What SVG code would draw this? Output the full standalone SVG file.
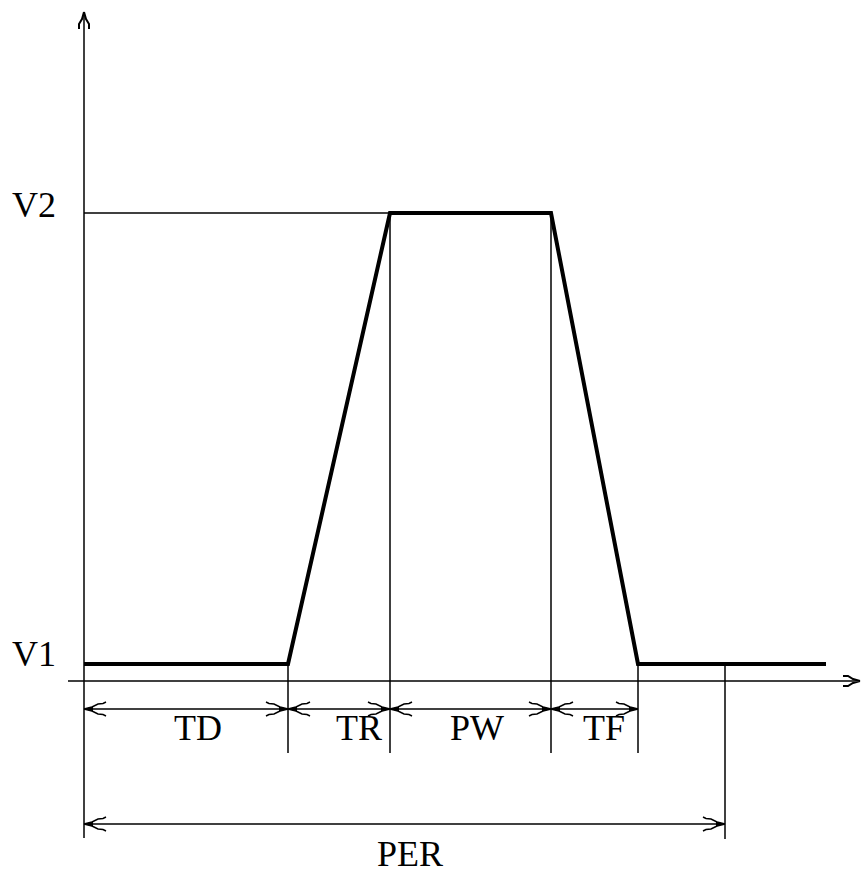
<svg xmlns="http://www.w3.org/2000/svg" width="865" height="873" viewBox="0 0 865 873">
<defs>
<style>
.thin{stroke:#000;stroke-width:1.5;fill:none}
.thick{stroke:#000;stroke-width:4;fill:none;stroke-linejoin:miter}
.dim{stroke:#000;stroke-width:1.5;fill:none;marker-start:url(#arr);marker-end:url(#arr)}
.lbl{font-family:"Liberation Serif","Times New Roman",serif;font-size:36px;fill:#000}
</style>
<marker id="arr" markerUnits="userSpaceOnUse" viewBox="-26 -9 28 18" refX="0" refY="0" markerWidth="28" markerHeight="18" orient="auto-start-reverse" overflow="visible">
<path d="M0,0 L-9,-2.5 L-9,2.5 Z" fill="#000"/>
<path d="M0,0 L-8,-2 L-14,-5 L-19,-5.5 L-22,-7 M0,0 L-8,2 L-14,5 L-19,5.5 L-22,7" stroke="#000" stroke-width="1.5" fill="none"/>
</marker>
<marker id="axarr" markerUnits="userSpaceOnUse" viewBox="-26 -9 28 18" refX="0" refY="0" markerWidth="28" markerHeight="18" orient="auto" overflow="visible">
<path d="M0,0 L-7,-2 L-12,-5 L-17,-5 M0,0 L-7,2 L-12,5 L-17,5" stroke="#000" stroke-width="2" fill="none"/>
</marker>
</defs>
<rect width="865" height="873" fill="#fff"/>
<g id="axes">
<line class="thin" x1="84" y1="838" x2="84" y2="12" marker-end="url(#axarr)"/>
<line class="thin" x1="68" y1="681" x2="860" y2="681" marker-end="url(#axarr)"/>
</g>
<g id="guides">
<line class="thin" x1="84" y1="213" x2="390" y2="213"/>
<line class="thin" x1="288" y1="664" x2="288" y2="753"/>
<line class="thin" x1="390" y1="213" x2="390" y2="753"/>
<line class="thin" x1="551" y1="213" x2="551" y2="753"/>
<line class="thin" x1="638" y1="664" x2="638" y2="753"/>
<line class="thin" x1="725" y1="664" x2="725" y2="839"/>
</g>
<g id="waveform">
<polyline class="thick" points="84,664 288,664 390,213 551,213 638,664 826,664"/>
</g>
<g id="connectors">
<line class="dim" x1="84" y1="709" x2="288" y2="709"/>
<line class="dim" x1="288" y1="709" x2="390" y2="709"/>
<line class="dim" x1="390" y1="709" x2="551" y2="709"/>
<line class="dim" x1="551" y1="709" x2="638" y2="709"/>
<line class="dim" x1="84" y1="824" x2="725" y2="824"/>
</g>
<g id="labels">
<text class="lbl" x="12" y="217">V2</text>
<text class="lbl" x="12" y="666">V1</text>
<text class="lbl" x="198" y="740" text-anchor="middle">TD</text>
<text class="lbl" x="359" y="740" text-anchor="middle">TR</text>
<text class="lbl" x="477" y="740" text-anchor="middle">PW</text>
<text class="lbl" x="604" y="740" text-anchor="middle">TF</text>
<text class="lbl" x="410" y="866" text-anchor="middle">PER</text>
</g>
</svg>
